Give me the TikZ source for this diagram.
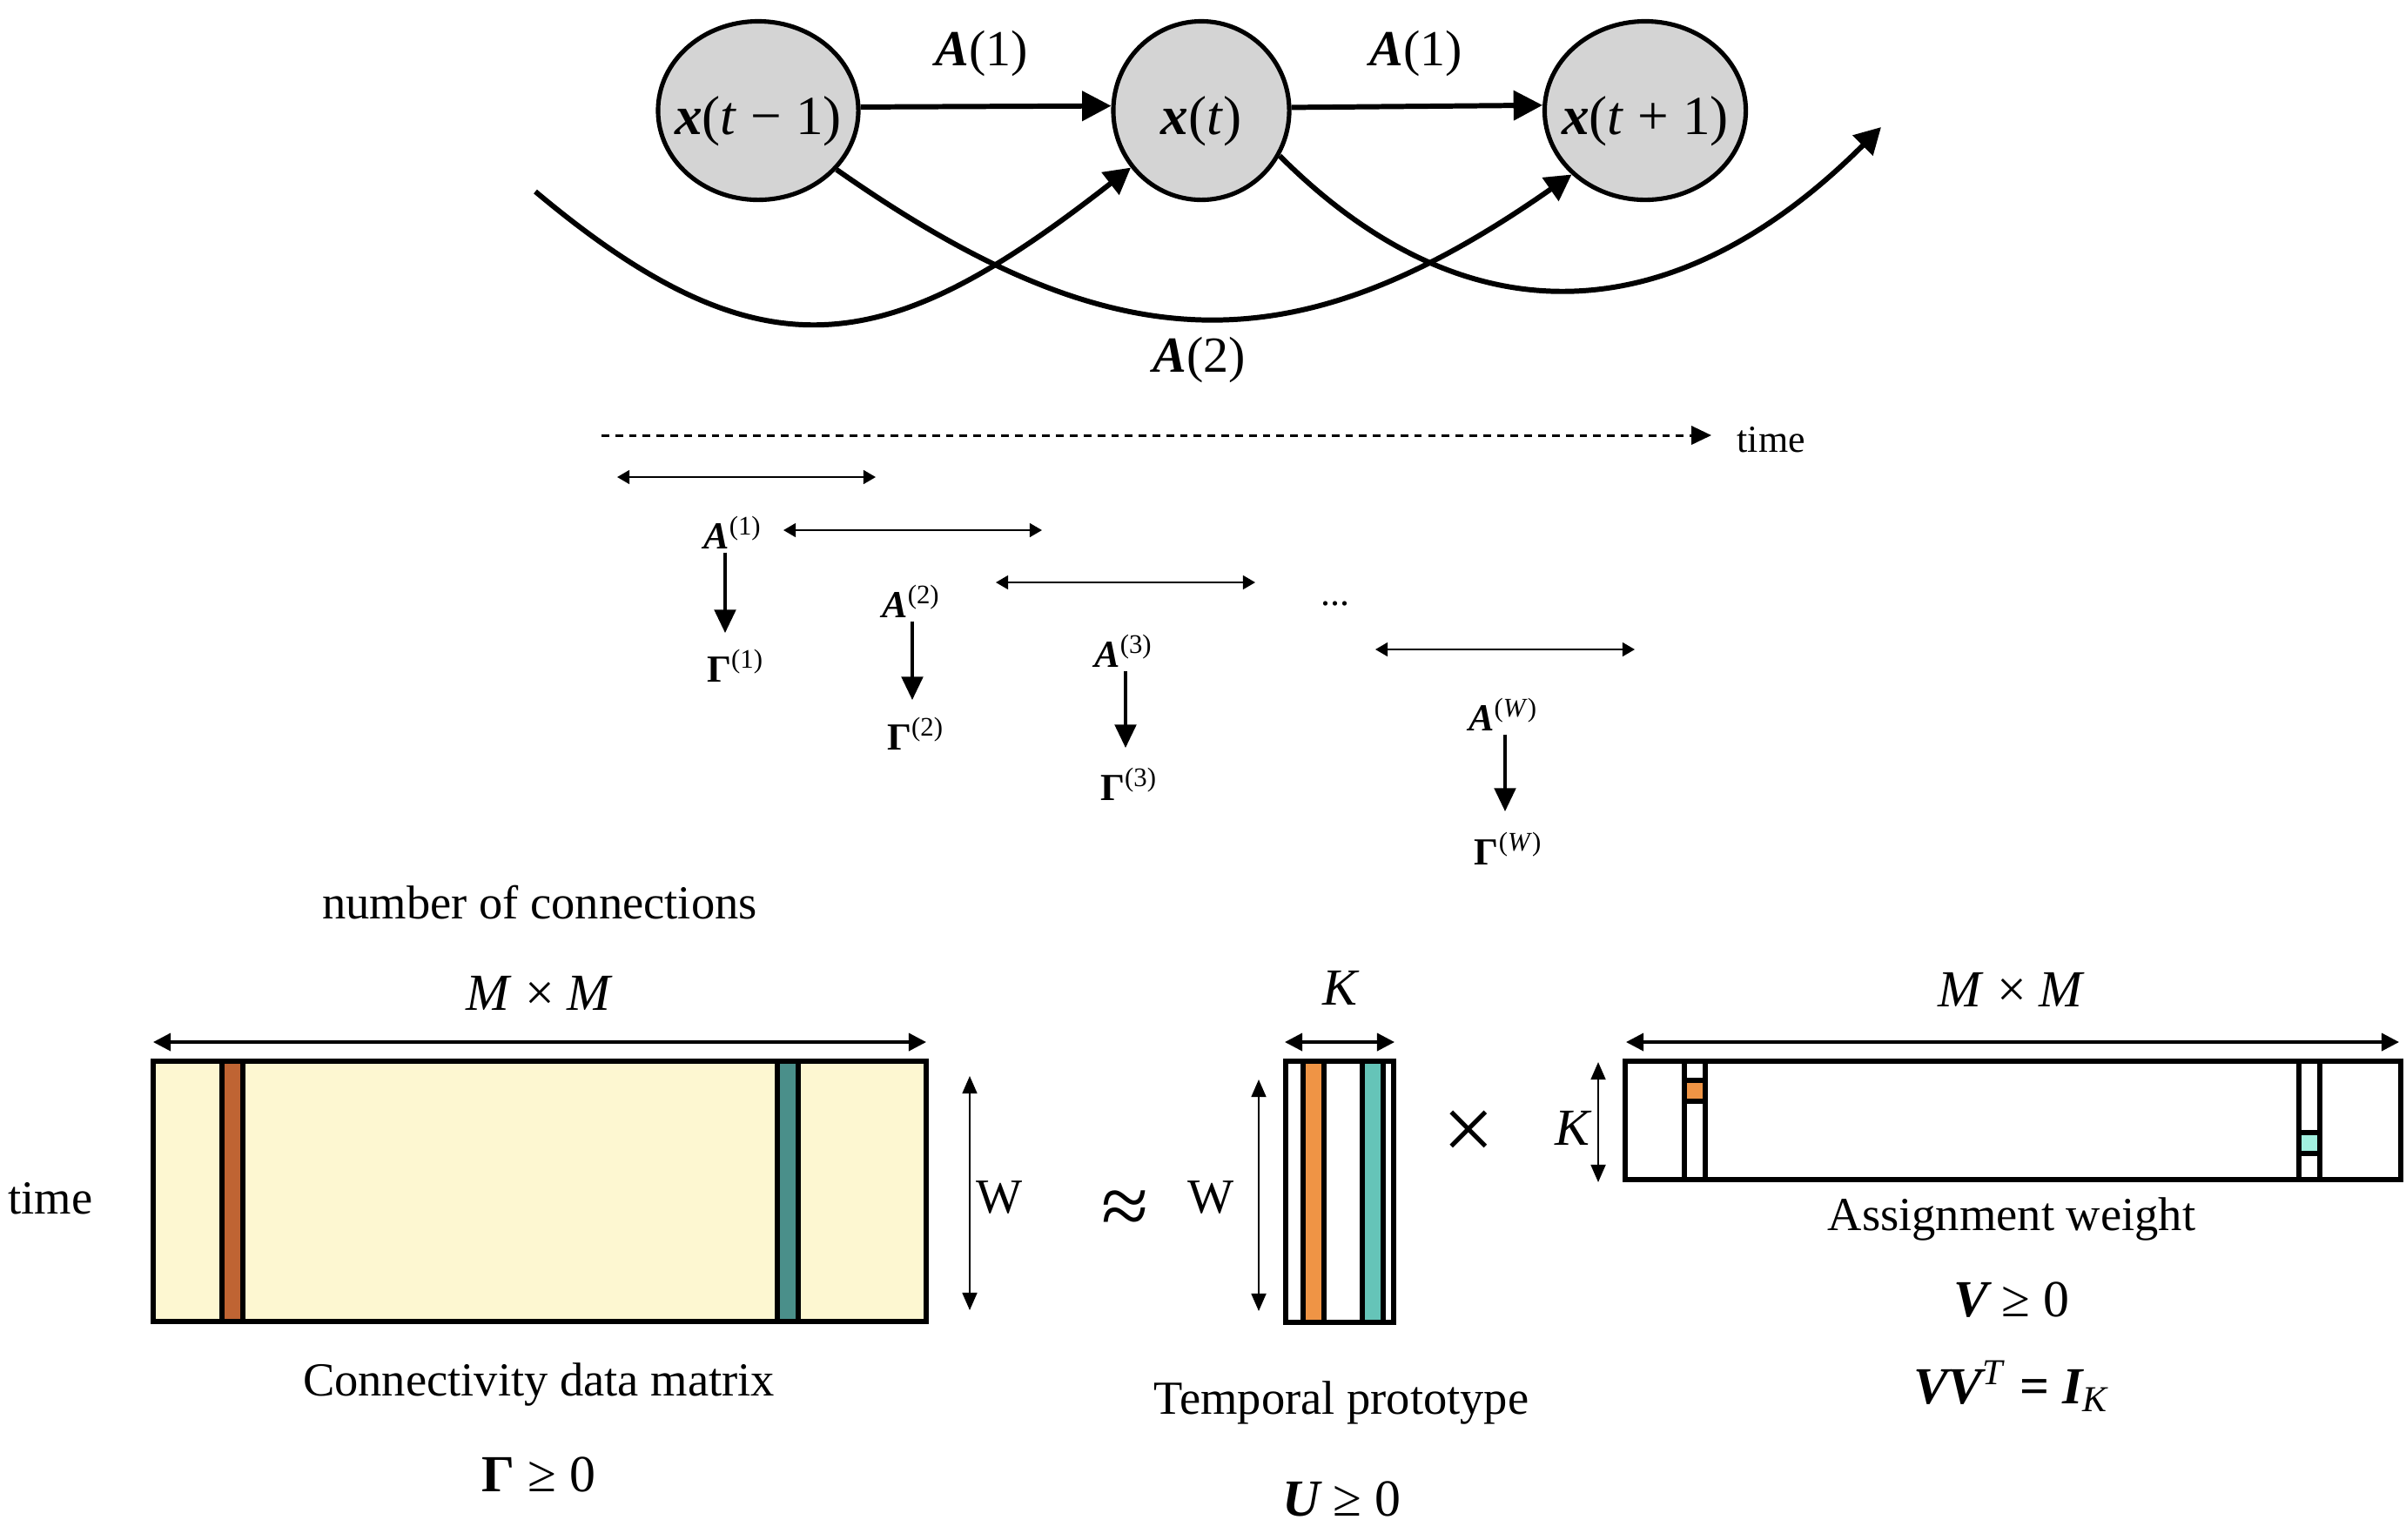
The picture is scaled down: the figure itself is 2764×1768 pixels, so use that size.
\documentclass[tikz,border=0pt]{standalone}
\usepackage{fontspec}
\setmainfont{Liberation Serif}
\usetikzlibrary{arrows.meta,calc,shapes.geometric}
\definecolor{ellgray}{HTML}{D4D4D4}
\definecolor{paleyellow}{HTML}{FDF7D1}
\definecolor{brownstripe}{HTML}{BF6433}
\definecolor{tealdark}{HTML}{4A8F8A}
\definecolor{orangestripe}{HTML}{EF9445}
\definecolor{teallight}{HTML}{65C4B8}
\definecolor{cyansq}{HTML}{A2F0E0}
\newcommand{\bi}[1]{{\bfseries\itshape #1}}
\newcommand{\fsz}[1]{\fontsize{#1}{#1}\selectfont}
\begin{document}
\begin{tikzpicture}[x=0.01cm,y=-0.01cm,
  statenode/.style={ellipse, draw, line width=1.45pt, fill=ellgray, inner sep=0pt, minimum height=2.05cm},
  statetext/.style={font=\fsz{18}, inner sep=0pt},
  toplbl/.style={font=\fsz{16.5}},
  straightarr/.style={line width=1.7pt, -{Triangle[length=9.5pt,width=9.5pt]}},
  curvearr/.style={line width=1.7pt, -{Triangle[length=8.5pt,width=9pt]}},
  dotarrow/.style={line width=0.85pt, dash pattern=on 2.5pt off 2pt, -{Triangle[length=6.5pt,width=6pt]}},
  winarrow/.style={line width=0.6pt, {Triangle[length=4pt,width=4.5pt]}-{Triangle[length=4pt,width=4.5pt]}},
  downarr/.style={line width=1pt, -{Triangle[length=7.6pt,width=7pt]}},
  midlbl/.style={font=\fsz{12.5}, inner sep=0pt},
  matline/.style={line width=1.7pt},
  dimarrow/.style={line width=1pt, {Triangle[length=5.7pt,width=5.7pt]}-{Triangle[length=5.7pt,width=5.7pt]}},
  vdimarrow/.style={line width=0.6pt, {Triangle[length=5.7pt,width=4.8pt]}-{Triangle[length=5.7pt,width=4.8pt]}},
  txt/.style={font=\fsz{15.5}},
  mathlbl/.style={font=\fsz{17}}
]
\useasboundingbox (0,0) rectangle (2764,1768);

% ---------- top: state graph ----------
\node[statenode, minimum width=2.30cm] (e1) at (871,127) {};
\node[statenode, minimum width=2.02cm] (e2) at (1380,127) {};
\node[statenode, minimum width=2.31cm] (e3) at (1890,127) {};
\node[statetext] (t1) at (871,139) {\bi{x}(\textit{t} − 1)};
\node[statetext] (t2) at (1380,139) {\bi{x}(\textit{t})};
\node[statetext] (t3) at (1890,139) {\bi{x}(\textit{t} + 1)};
\draw[straightarr] (e1.2.5) -- (e2.177.5);
\draw[straightarr] (e2.2.5) -- (e3.177.5);
\node[toplbl] (l1) at (1128,62) {\bi{A}(1)};
\node[toplbl] (l2) at (1627,62) {\bi{A}(1)};
\node[toplbl] (l3) at (1378,414) {\bi{A}(2)};
\coordinate (c1s) at (615,220);
\coordinate (c3e) at (2161,146);
\draw[curvearr] (c1s) to[out=-40,in=218,looseness=1.3] (e2.219);
\draw[curvearr] (e1.-37) to[out=-35,in=215,looseness=1.18] (e3.221);
\draw[curvearr] (e2.-30) to[out=-45,in=225,looseness=1.18] (c3e);

% ---------- middle: sliding windows ----------
\coordinate (tstart) at (691,500);
\node[font=\fsz{12.5}, anchor=west, inner sep=0pt] (timelbl) at (1995,505) {time};
\draw[dotarrow] (tstart) -- (1966,500);
\draw[winarrow] (709,548) -- (1006,548);
\draw[winarrow] (900,609) -- (1197,609);
\draw[winarrow] (1144,669) -- (1442,669);
\draw[winarrow] (1580,746) -- (1878,746);

\node[midlbl, anchor=base] (a1) at (842,630) {\bi{A}\textsuperscript{(1)}};
\node[midlbl, anchor=base] (a2) at (1047,709) {\bi{A}\textsuperscript{(2)}};
\node[midlbl, anchor=base] (a3) at (1291,766) {\bi{A}\textsuperscript{(3)}};
\node[midlbl, anchor=base] (aw) at (1727,839) {\bi{A}\textsuperscript{(\textit{W})}};
\node[midlbl, anchor=base] (g1) at (845,783) {\textbf{Γ}\textsuperscript{(1)}};
\node[midlbl, anchor=base] (g2) at (1052,861) {\textbf{Γ}\textsuperscript{(2)}};
\node[midlbl, anchor=base] (g3) at (1297,919) {\textbf{Γ}\textsuperscript{(3)}};
\node[midlbl, anchor=base] (gw) at (1733,993) {\textbf{Γ}\textsuperscript{(\textit{W})}};
\node[midlbl] (dots) at (1534,693) {...};
\draw[downarr] (a1.south -| 833,0) ++(0,4) -- (833,727);
\draw[downarr] (a2.south -| 1048,0) ++(0,4) -- (1048,804);
\draw[downarr] (a3.south -| 1293,0) ++(0,4) -- (1293,859);
\draw[downarr] (aw.south -| 1729,0) ++(0,4) -- (1729,932);

% ---------- bottom: factorization ----------
\node[txt] (noc) at (620,1037) {number of connections};
\node[mathlbl] (mm1) at (620,1141) {\textit{M} × \textit{M}};
\draw[dimarrow] (176,1197) -- (1064,1197);
\draw[matline, fill=paleyellow] (176,1219) rectangle (1064,1518);
\draw[matline, fill=brownstripe] (255,1219) rectangle (279,1518);
\draw[matline, fill=tealdark] (893,1219) rectangle (917,1518);
\node[txt] (timeL) at (58,1377) {time};
\draw[vdimarrow] (1114,1236) -- (1114,1505);
\node[font=\fsz{16}] (w1) at (1148,1375) {W};
\node[txt] (cdm) at (619,1590) {Connectivity data matrix};
\node[mathlbl] (gam) at (619,1694) {\textbf{Γ} ≥ 0};

\node[font=\fsz{28}] (approx) at (1292,1393) {≈};
\node[font=\fsz{16}] (w2) at (1391,1375) {W};
\draw[vdimarrow] (1446,1240) -- (1446,1506);
\node[mathlbl] (k1) at (1541,1135) {\textit{K}};
\draw[dimarrow] (1476,1197) -- (1602,1197);
\draw[matline, fill=white] (1477,1219) rectangle (1601,1519);
\draw[matline, fill=orangestripe] (1497,1219) rectangle (1521,1519);
\draw[matline, fill=teallight] (1565,1219) rectangle (1589,1519);
\node[txt] (tp) at (1541,1611) {Temporal prototype};
\node[mathlbl] (ug) at (1541,1722) {\bi{U} ≥ 0};

\node[font=\fsz{30}] (times) at (1687,1304) {×};

\node[mathlbl] (k2) at (1808,1296) {\textit{K}};
\draw[vdimarrow] (1836,1220) -- (1836,1358);
\node[mathlbl] (mm2) at (2311,1137) {\textit{M} × \textit{M}};
\draw[dimarrow] (1868,1197) -- (2756,1197);
\draw[matline, fill=white] (1867,1219) rectangle (2758,1355);
\draw[matline] (1935,1219) -- (1935,1355);
\draw[matline] (1959,1219) -- (1959,1355);
\draw[matline, fill=orangestripe] (1935,1241) rectangle (1959,1265);
\draw[matline] (2641,1219) -- (2641,1355);
\draw[matline] (2665,1219) -- (2665,1355);
\draw[matline, fill=cyansq] (2641,1301) rectangle (2665,1325);
\node[txt] (aw2) at (2311,1400) {Assignment weight};
\node[mathlbl] (vg) at (2311,1493) {\bi{V} ≥ 0};
\node[mathlbl] (vv) at (2311,1592) {\bi{VV}\textsuperscript{\textit{T}} \textbf{=} \bi{I}\textsubscript{\textit{K}}};
\end{tikzpicture}
\end{document}
